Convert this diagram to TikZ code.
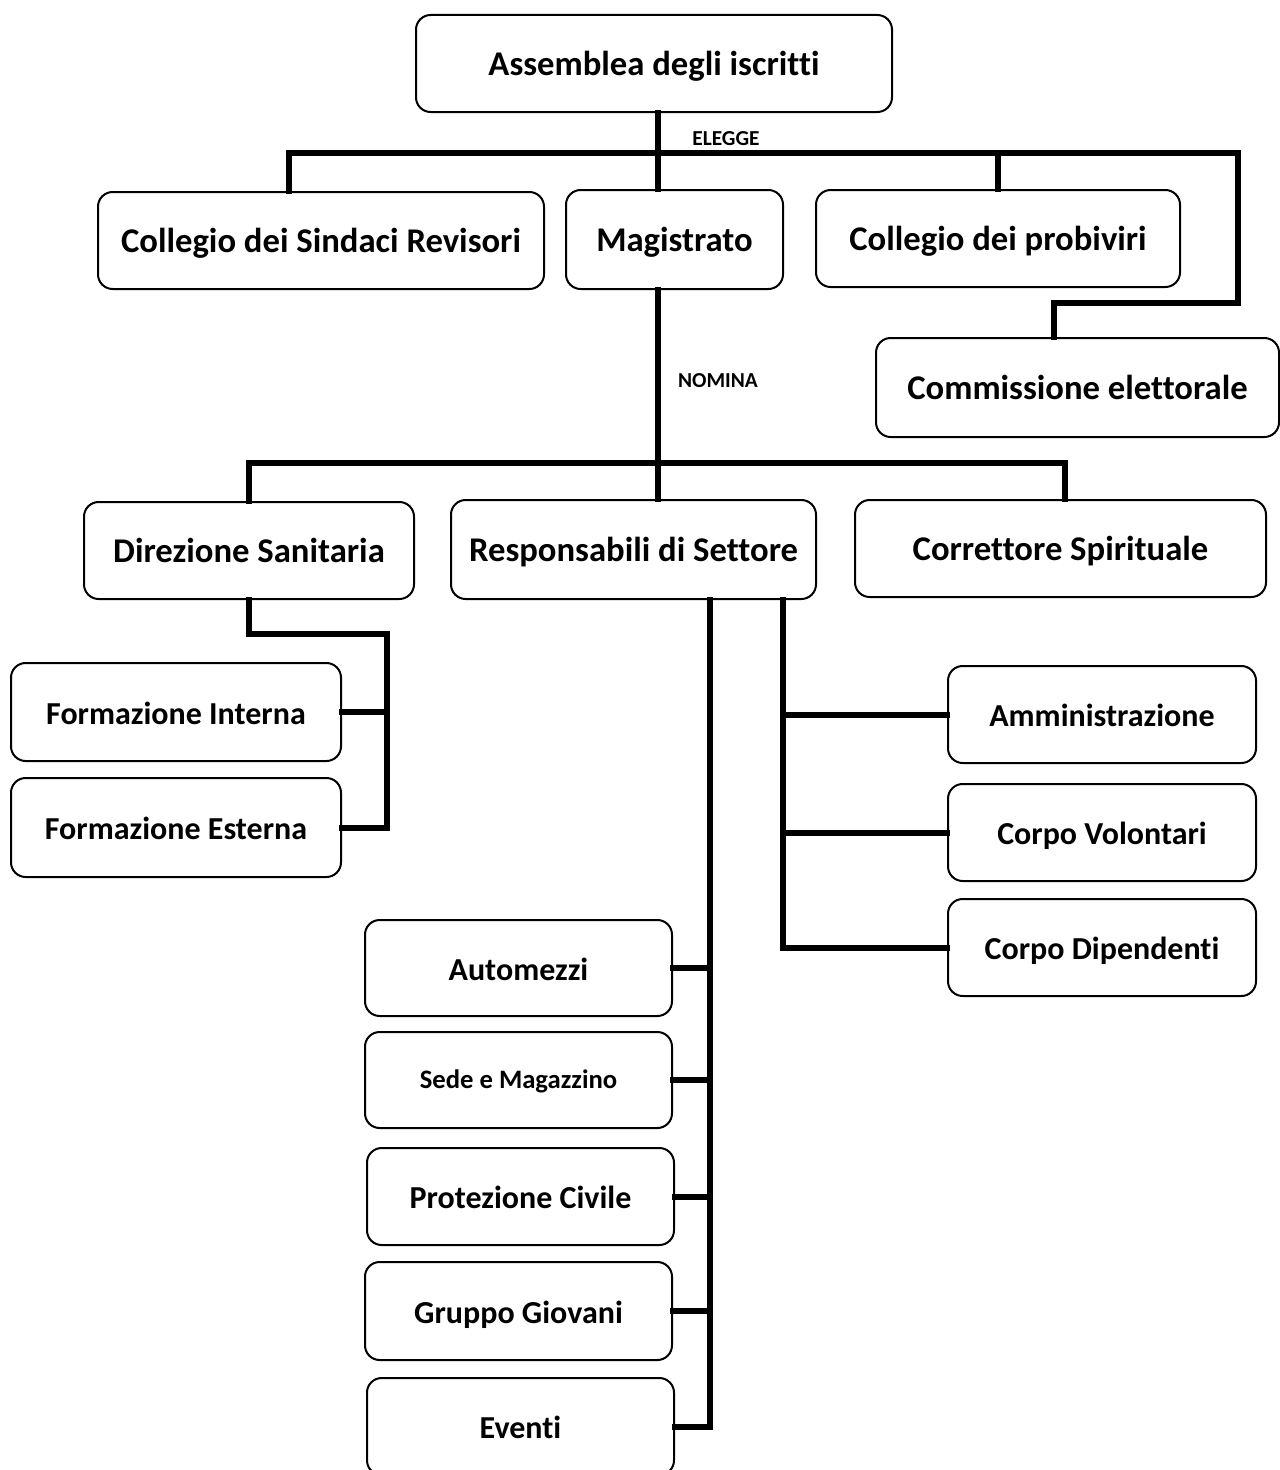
\documentclass[tikz,border=0pt]{standalone}
\usepackage{fontspec}
\setmainfont{Carlito}[Ligatures=NoCommon]
\usepackage{tikz}
\tikzset{
  unit/.style  = {shape=rectangle, rounded corners=11pt, draw, line width=1.5pt,
                  align=center, inner sep=2pt, text height=18pt, text depth=0pt,
                  font=\bfseries\fontsize{26}{30}\selectfont},
  subunit/.style = {unit, text height=18pt,
                    font=\bfseries\fontsize{24}{28}\selectfont},
  dims/.style 2 args = {minimum width=#1*0.75pt, minimum height=#2*0.75pt},
  link/.style  = {draw, line width=4.5pt, line cap=rect},
  tag/.style   = {font=\bfseries\fontsize{16}{19}\selectfont}
}

\begin{document}
\begin{tikzpicture}
  [
    x = 0.75pt,
    y = -0.75pt
  ]
  \useasboundingbox (0,0) rectangle (1279,1470);

  % top levels
  \node [unit, dims={476}{97}] (assemblea)    at (654,63.5)   {Assemblea degli iscritti};
  \node [unit, dims={446}{97}] (sindaci)      at (321,240.5)  {Collegio dei Sindaci Revisori};
  \node [unit, dims={217}{99}] (magistrato)   at (674.5,239.5) {Magistrato};
  \node [unit, dims={364}{97}] (probiviri)    at (998,238.5)  {Collegio dei probiviri};
  \node [unit, dims={403}{99}] (commissione)  at (1077.5,387.5) {Commissione elettorale};

  \node [unit, dims={330}{97}] (direzione)    at (249,550.5)  {Direzione Sanitaria};
  \node [unit, dims={365}{99}] (responsabili) at (633.5,549.5) {Responsabili di Settore};
  \node [unit, dims={411}{97}] (correttore)   at (1060.5,548.5) {Correttore Spirituale};

  % sottosettori
  \node [subunit, dims={330}{98}] (finterna)  at (176,712)   {Formazione Interna};
  \node [subunit, dims={330}{99}] (festerna)  at (176,827.5) {Formazione Esterna};

  \node [subunit, dims={308}{97}] (amministrazione) at (1102,714.5) {Amministrazione};
  \node [subunit, dims={308}{97}] (volontari)       at (1102,832.5) {Corpo Volontari};
  \node [subunit, dims={308}{97}] (dipendenti)      at (1102,947.5) {Corpo Dipendenti};

  \node [subunit, dims={307}{96}] (automezzi)  at (518.5,968)    {Automezzi};
  \node [subunit, dims={307}{96}, text height=13pt,
         font=\bfseries\fontsize{20}{24}\selectfont]
        (sede)       at (518.5,1080)   {Sede e Magazzino};
  \node [subunit, dims={307}{97}] (protezione) at (520.5,1196.5) {Protezione Civile};
  \node [subunit, dims={307}{98}] (giovani)    at (518.5,1311)   {Gruppo Giovani};
  \node [subunit, dims={307}{97}] (eventi)     at (520.5,1426.5) {Eventi};

  % punti di snodo
  \coordinate (elegge)     at (658,153);
  \coordinate (eleggeL)    at (289,153);
  \coordinate (eleggeR)    at (1238,153);
  \coordinate (commKnee)   at (1054,303);
  \coordinate (nomina)     at (658,463);
  \coordinate (nominaR)    at (1065,463);
  \coordinate (dirKnee)    at (387,634);
  \coordinate (leftSpine)  at (710,1422);
  \coordinate (rightSpine) at (783,953);

  % collegamenti
  \draw [link] (assemblea.south -| elegge) -- (magistrato.north -| elegge);
  \draw [link] (sindaci.north -| eleggeL) -- (eleggeL) -- (eleggeR)
               |- (commKnee) -- (commissione.north -| commKnee);
  \draw [link] (elegge -| probiviri) -- (probiviri.north);
  \node [tag] (lblElegge) at (726,139) {ELEGGE};

  \draw [link] (magistrato.south -| nomina) -- (responsabili.north -| nomina);
  \draw [link] (direzione.north) |- (nominaR) -- (correttore.north -| nominaR);
  \node [tag] (lblNomina) at (718,381) {NOMINA};

  \draw [link] (direzione.south) |- (dirKnee) |- (festerna.east);
  \draw [link] (finterna.east) -- (finterna.east -| dirKnee);

  \draw [link] (responsabili.south -| leftSpine) |- (eventi.east);
  \foreach \n in {automezzi, sede, protezione, giovani}
    \draw [link] (\n.east) -- (\n.east -| leftSpine);

  \draw [link] (responsabili.south -| rightSpine) |- (dipendenti.west);
  \foreach \n in {amministrazione, volontari}
    \draw [link] (\n.west -| rightSpine) -- (\n.west);
\end{tikzpicture}
\end{document}
